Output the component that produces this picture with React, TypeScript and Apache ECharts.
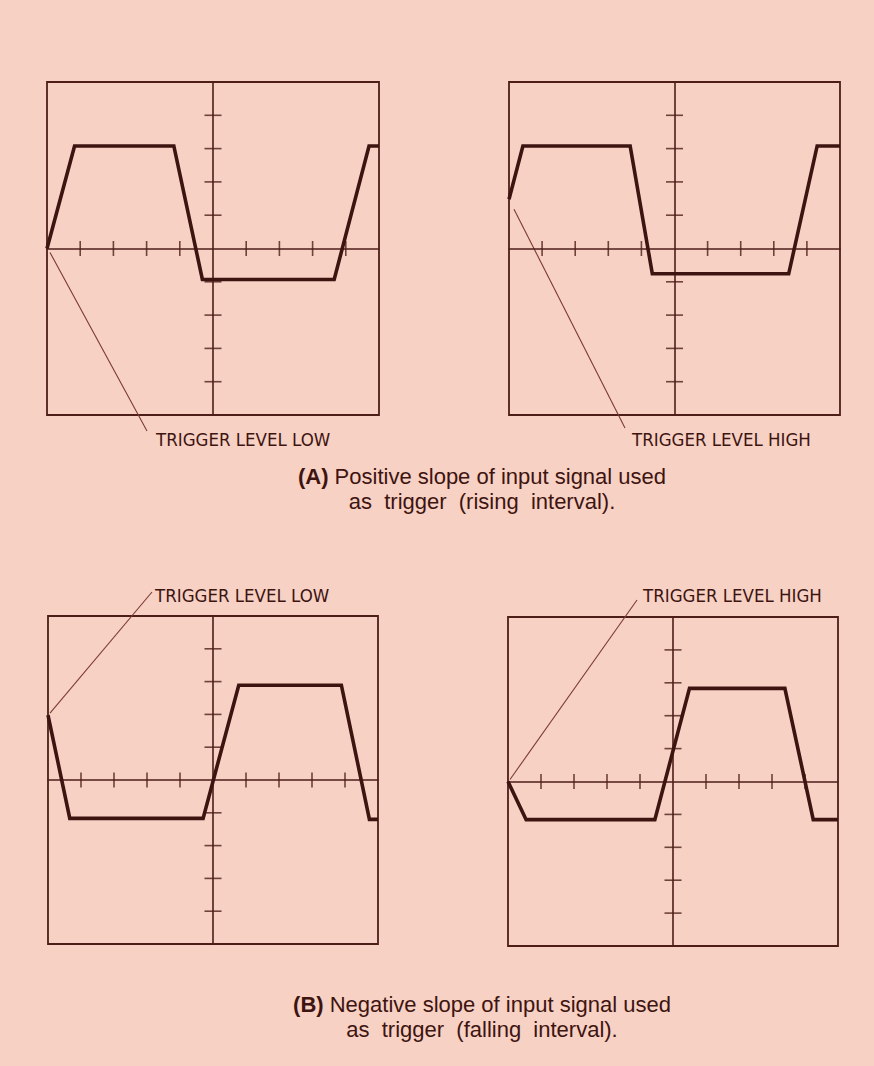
import React, { useEffect, useRef } from "react";
import * as echarts from "echarts";

// ---- data ----
const tickPositions = [-4, -3, -2, -1, 1, 2, 3, 4];

const aLowX = [-5, -4.17, -1.18, -0.32, 3.65, 4.7, 5];
const aLowY = [0, 3.08, 3.08, -0.93, -0.93, 3.08, 3.08];

const aHighX = [-5, -4.58, -1.34, -0.67, 3.45, 4.31, 5];
const aHighY = [1.48, 3.08, 3.08, -0.76, -0.76, 3.08, 3.08];

const bLowX = [-5, -4.34, -0.3, 0.78, 3.89, 4.74, 5];
const bLowY = [1.98, -1.17, -1.17, 2.89, 2.89, -1.2, -1.2];

const bHighX = [-5, -4.45, -0.55, 0.5, 3.39, 4.25, 5];
const bHighY = [0, -1.16, -1.16, 2.83, 2.83, -1.16, -1.16];

const panelLabels = ["TRIGGER LEVEL LOW", "TRIGGER LEVEL HIGH", "TRIGGER LEVEL LOW", "TRIGGER LEVEL HIGH"];
const captionA = ["(A)", " Positive slope of input signal used", "as  trigger  (rising  interval)."];
const captionB = ["(B)", " Negative slope of input signal used", "as  trigger  (falling  interval)."];

const waves = [
  [aLowX, aLowY],
  [aHighX, aHighY],
  [bLowX, bLowY],
  [bHighX, bHighY],
];

// ---- styles / layout ----
const BG = "#f6d1c4";
const INK = "#3e1410";
const AXIS = "#4d1e18";
const LEADER = "#7c3a30";

const grids = [
  { left: 47, top: 82, width: 332, height: 333 },
  { left: 509, top: 82, width: 331, height: 333 },
  { left: 48, top: 616, width: 330, height: 328 },
  { left: 508, top: 617, width: 330, height: 329 },
];

// label anchor (pixel) and leader end
const labelPos = [
  { x: 156, y: 439, ex: 147, ey: 431, dx: 3, dy: 4 },
  { x: 632, y: 439, ex: 625, ey: 428, dx: 5, dy: 10 },
  { x: 155, y: 595, ex: 152, ey: 592, dx: 2, dy: -2 },
  { x: 643, y: 595, ex: 637, ey: 600, dx: 2, dy: -2 },
];

export default function App() {
  const ref = useRef<HTMLDivElement>(null);
  useEffect(() => {
    if (!ref.current) return;
    const chart = echarts.init(ref.current, undefined, { renderer: "svg" });
    const series: any[] = [];
    waves.forEach((w, i) => {
      series.push({
        type: "line",
        xAxisIndex: i,
        yAxisIndex: i,
        data: w[0].map((x, k) => [x, w[1][k]]),
        symbol: "none",
        lineStyle: { color: INK, width: 3.6, join: "miter" },
        z: 5,
      });
      series.push({
        type: "scatter",
        xAxisIndex: i,
        yAxisIndex: i,
        data: tickPositions.map((t) => [t, 0]),
        symbol: "rect",
        symbolSize: [1.6, 15],
        itemStyle: { color: AXIS },
        silent: true,
        z: 3,
      });
      series.push({
        type: "scatter",
        xAxisIndex: i,
        yAxisIndex: i,
        data: tickPositions.map((t) => [0, t]),
        symbol: "rect",
        symbolSize: [17, 1.6],
        itemStyle: { color: AXIS },
        silent: true,
        z: 3,
      });
    });
    const axisCommon = {
      type: "value",
      min: -5,
      max: 5,
      interval: 1,
      axisLine: { show: true, onZero: true, lineStyle: { color: AXIS, width: 1.6 } },
      axisTick: { show: false },
      axisLabel: { show: false },
      splitLine: { show: false },
    };
    chart.setOption({
      animation: false,
      backgroundColor: BG,
      grid: grids.map((g) => ({ ...g, show: true, borderColor: AXIS, borderWidth: 1.8, containLabel: false })),
      xAxis: grids.map((_, i) => ({ ...axisCommon, gridIndex: i })),
      yAxis: grids.map((_, i) => ({ ...axisCommon, gridIndex: i })),
      series,
    });

    const labelFont = "'Liberation Sans Narrow', 'DejaVu Sans Condensed', 'Roboto Condensed', sans-serif";
    const capFont = "'Liberation Sans', Arial, Helvetica, sans-serif";
    const graphics: any[] = [];
    waves.forEach((w, i) => {
      const p = chart.convertToPixel({ gridIndex: i } as any, [w[0][0], w[1][0]]) as number[];
      const L = labelPos[i];
      graphics.push({
        type: "line",
        shape: { x1: p[0] + L.dx, y1: p[1] + L.dy, x2: L.ex, y2: L.ey },
        style: { stroke: LEADER, lineWidth: 1.1 },
        silent: true,
      });
      graphics.push({
        type: "text",
        x: L.x,
        y: L.y,
        style: {
          text: panelLabels[i],
          fill: INK,
          font: `18.5px ${labelFont}`,
          textAlign: "left",
          textVerticalAlign: "middle",
        },
        silent: true,
      });
    });
    const caption = (c: string[], y: number) => {
      graphics.push({
        type: "text",
        x: 482,
        y,
        style: {
          text: `{b|${c[0]}}{n|${c[1]}}`,
          rich: {
            b: { fontWeight: "bold", fontSize: 22, fontFamily: capFont, fill: INK },
            n: { fontSize: 22, fontFamily: capFont, fill: INK },
          },
          textAlign: "center",
          textVerticalAlign: "middle",
        },
        silent: true,
      });
      graphics.push({
        type: "text",
        x: 482,
        y: y + 25,
        style: {
          text: c[2],
          fill: INK,
          font: `22px ${capFont}`,
          textAlign: "center",
          textVerticalAlign: "middle",
        },
        silent: true,
      });
    };
    caption(captionA, 476);
    caption(captionB, 1004);
    chart.setOption({ graphic: graphics });
    return () => chart.dispose();
  }, []);
  return (
    <div
      ref={ref}
      style={{ position: "absolute", left: 0, top: 0, width: 874, height: 1066, background: BG }}
    />
  );
}
